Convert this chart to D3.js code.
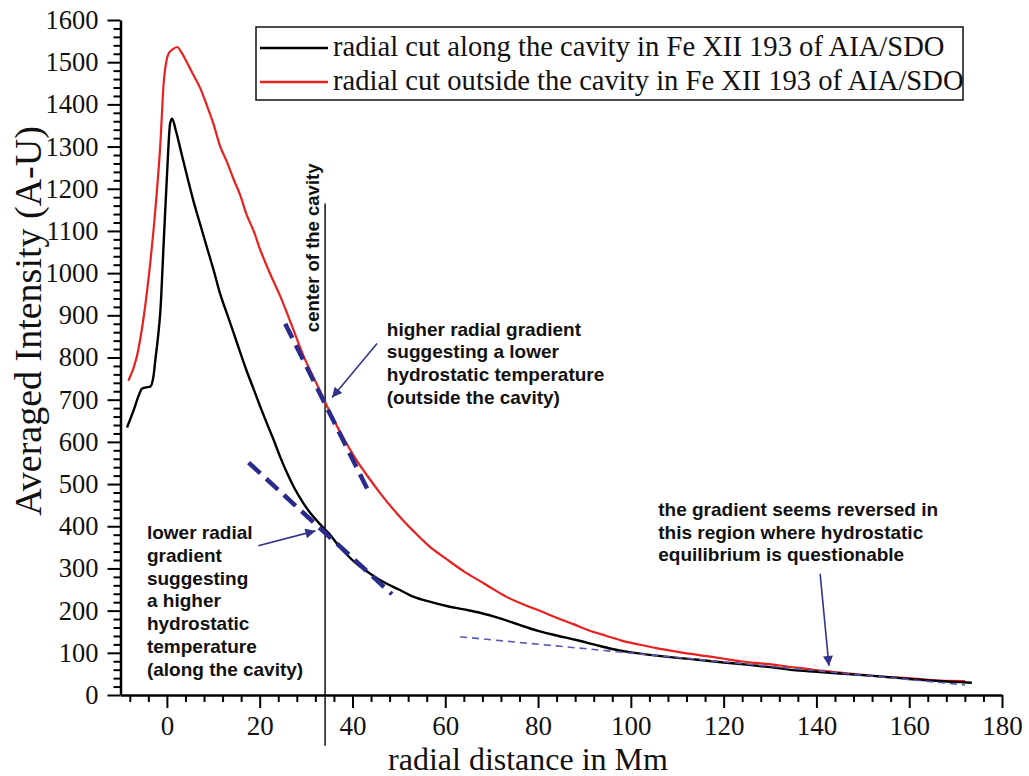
<!DOCTYPE html>
<html>
<head>
<meta charset="utf-8">
<script src="https://cdn.jsdelivr.net/npm/d3@7"></script>
<style>
body {
  margin: 0;
  background: #fff;
}
.serif {
  font-family: 'Liberation Serif', 'Times New Roman', serif;
}
.note {
  font-family: 'Liberation Sans', Arial, sans-serif;
  font-weight: bold;
  font-size: 19px;
  fill: #111;
}
</style>
</head>
<body>
<svg id="chart"></svg>
<script>
// radial cut along the cavity (black)
const alongX = [-8.6, -7.2, -6.0, -5.4, -4.5, -3.6, -2.9, -2.5, -1.9, -1.4, -0.7, 0, 0.7, 1.1, 2.0, 2.9, 4.3, 5.7, 7.2, 8.6,
  10, 11.5, 13, 14.4, 15.8, 17.2, 18.7, 20.1, 21.5, 23, 24.5, 25.9, 27.5, 29.4, 31, 33, 35, 36.6, 38.5, 40.9,
  43, 46, 50, 53.1, 57, 60.3, 64, 67.5, 72, 76, 80, 84, 88, 92, 96, 100, 105, 110, 115, 120,
  125, 130, 135, 140, 145, 150, 155, 160, 165, 170, 173.5];
const alongY = [634, 674, 712, 726, 729, 731, 755, 793, 850, 911, 1070, 1228, 1355, 1366, 1335, 1295, 1232, 1172, 1115, 1062,
  1010, 950, 902, 858, 812, 768, 725, 684, 645, 605, 562, 526, 490, 455, 430, 405, 382, 360, 336, 311,
  294, 272, 250, 233, 220, 211, 203, 195, 181, 166, 152, 141, 131, 120, 109, 101, 94, 88, 83, 77,
  72, 66, 59, 55, 51, 47, 43, 38, 34, 31, 29];

// radial cut outside the cavity (red)
const outsideX = [-8.3, -6.5, -5.0, -3.6, -2.5, -1.4, -0.7, 0, 0.6, 1.1, 2.2, 3.2, 4.3, 5.7, 7.2, 8.6, 10, 11.5, 12.9, 14.4,
  15.8, 17.2, 18.7, 20.1, 21.6, 23, 24.4, 26.6, 29.4, 32.3, 34.5, 37.4, 40.9, 43.5, 46, 50, 53.1, 56.5, 60.3, 64,
  67.5, 70, 73.3, 77, 80.5, 84, 87.6, 91, 94.8, 98, 102, 105.5, 109.2, 112.5, 116.4, 120, 123.6, 127, 130.7, 134,
  137.9, 141.5, 145.1, 148.7, 152.3, 156, 159.5, 163, 166.7, 172];
const outsideY = [745, 801, 896, 1023, 1149, 1308, 1450, 1508, 1524, 1529, 1536, 1522, 1500, 1470, 1438, 1398, 1355, 1300, 1265, 1222,
  1185, 1138, 1100, 1056, 1015, 980, 946, 885, 805, 737, 685, 622, 556, 515, 478, 425, 389, 353, 322, 293,
  270, 253, 232, 214, 199, 183, 168, 153, 140, 129, 119, 111, 104, 98, 92, 86, 80, 76, 72, 67,
  62, 57, 53, 49, 45, 42, 40, 37, 34, 33];

const xTicks = [0, 20, 40, 60, 80, 100, 120, 140, 160, 180];
const xMinor = d3.range(-8, 180, 4).filter(v => v % 20 !== 0);
const yTicks = [0, 100, 200, 300, 400, 500, 600, 700, 800, 900, 1000, 1100, 1200, 1300, 1400, 1500, 1600];
const yMinor = d3.range(0, 1600, 20).filter(v => v % 100 !== 0);

const seriesNames = [
  'radial cut along the cavity in Fe XII 193 of AIA/SDO',
  'radial cut outside the cavity in Fe XII 193 of AIA/SDO'
];

// gradient guides: [x1, y1, x2, y2] in data units
const guideOutside = [25.5, 880, 43.4, 484];
const guideAlong = [17.6, 551, 48.5, 239];
const guideFar = [63.2, 138, 172, 24];
const cavityX = 34.1;
const cavityTop = 1165;

// arrows: [fromX, fromY, toX, toY]
const arrows = [
  [45.3, 833, 35.6, 705],
  [19.7, 354, 32.0, 389],
  [140.8, 287, 142.7, 69]
];

// notes: anchor x, first baseline y (data units), lines
const notes = [
  { x: 47.4, y: 852, lines: ['higher radial gradient', 'suggesting a lower', 'hydrostatic temperature', '(outside the cavity)'] },
  { x: -4.3, y: 370, lines: ['lower radial', 'gradient', 'suggesting', 'a higher', 'hydrostatic', 'temperature', '(along the cavity)'] },
  { x: 105.9, y: 425, lines: ['the gradient seems reversed in', 'this region where hydrostatic', 'equilibrium is questionable'] }
];

const serifFont = "'Liberation Serif', 'Times New Roman', serif";
const width = 1029;
const height = 776;

const svg = d3.select('#chart').attr('width', width).attr('height', height);

const x = d3.scaleLinear().domain([-10, 180]).range([120.5, 1002]);
const y = d3.scaleLinear().domain([0, 1600]).range([695, 20]);

// minor ticks first
svg.append('g')
  .attr('transform', `translate(0,${y(0)})`)
  .call(d3.axisBottom(x).tickValues(xMinor).tickSize(7).tickFormat('').tickSizeOuter(0))
  .call(g => g.select('.domain').remove())
  .call(g => g.selectAll('line').attr('stroke-width', 2));

svg.append('g')
  .attr('transform', `translate(${x(-10)},0)`)
  .call(d3.axisLeft(y).tickValues(yMinor).tickSize(7).tickFormat('').tickSizeOuter(0))
  .call(g => g.select('.domain').remove())
  .call(g => g.selectAll('line').attr('stroke-width', 2));

const xAxis = svg.append('g')
  .attr('transform', `translate(0,${y(0)})`)
  .call(d3.axisBottom(x).tickValues(xTicks).tickFormat(d3.format('d'))
    .tickSize(13).tickPadding(8).tickSizeOuter(0))
  .attr('font-family', serifFont)
  .attr('font-size', 27);
xAxis.select('.domain').attr('stroke-width', 2.5);
xAxis.selectAll('line').attr('stroke-width', 2);
xAxis.selectAll('text').attr('fill', '#111');

const yAxis = svg.append('g')
  .attr('transform', `translate(${x(-10)},0)`)
  .call(d3.axisLeft(y).tickValues(yTicks).tickFormat(d3.format('d'))
    .tickSize(13).tickPadding(9).tickSizeOuter(0))
  .attr('font-family', serifFont)
  .attr('font-size', 26.5);
yAxis.select('.domain').attr('stroke-width', 2.5);
yAxis.selectAll('line').attr('stroke-width', 2);
yAxis.selectAll('text').attr('fill', '#111');

// axis titles
svg.append('text')
  .attr('class', 'serif')
  .attr('x', 528)
  .attr('y', 770)
  .attr('text-anchor', 'middle')
  .attr('font-size', 32)
  .attr('fill', '#111')
  .text('radial distance in Mm');

svg.append('text')
  .attr('class', 'serif')
  .attr('transform', 'translate(41,321) rotate(-90)')
  .attr('text-anchor', 'middle')
  .attr('font-size', 38)
  .attr('fill', '#111')
  .text('Averaged Intensity (A-U)');

// center of the cavity
svg.append('line')
  .attr('x1', x(cavityX)).attr('x2', x(cavityX))
  .attr('y1', y(cavityTop)).attr('y2', y(-120))
  .attr('stroke', '#111')
  .attr('stroke-width', 1.5);

svg.append('text')
  .attr('class', 'note')
  .attr('transform', `translate(${x(cavityX) - 6},${y(1060)}) rotate(-90)`)
  .attr('text-anchor', 'middle')
  .style('font-size', '18.5px')
  .text('center of the cavity');

// curves
const line = d3.line()
  .x(d => x(d[0]))
  .y(d => y(d[1]))
  .curve(d3.curveMonotoneX);

svg.append('path')
  .datum(d3.zip(outsideX, outsideY))
  .attr('fill', 'none')
  .attr('stroke', '#e8201e')
  .attr('stroke-width', 2.2)
  .attr('d', line);

svg.append('path')
  .datum(d3.zip(alongX, alongY))
  .attr('fill', 'none')
  .attr('stroke', '#000')
  .attr('stroke-width', 2.4)
  .attr('d', line);

// gradient guides
function guide(g, color, w, dash) {
  svg.append('line')
    .attr('x1', x(g[0])).attr('y1', y(g[1]))
    .attr('x2', x(g[2])).attr('y2', y(g[3]))
    .attr('stroke', color)
    .attr('stroke-width', w)
    .attr('stroke-dasharray', dash);
}
guide(guideOutside, '#2b2b8c', 4.5, '16,8');
guide(guideAlong, '#2b2b8c', 4.5, '16,8');
guide(guideFar, '#5a5ab4', 1.6, '7,5');

// arrows
svg.append('defs').append('marker')
  .attr('id', 'head')
  .attr('viewBox', '0 0 10 10')
  .attr('refX', 10).attr('refY', 5)
  .attr('markerWidth', 13).attr('markerHeight', 10)
  .attr('markerUnits', 'userSpaceOnUse')
  .attr('orient', 'auto')
  .append('path')
  .attr('d', 'M0,0L10,5L0,10Z')
  .attr('fill', '#33338a');

arrows.forEach(a => {
  svg.append('line')
    .attr('x1', x(a[0])).attr('y1', y(a[1]))
    .attr('x2', x(a[2])).attr('y2', y(a[3]))
    .attr('stroke', '#33338a')
    .attr('stroke-width', 1.6)
    .attr('marker-end', 'url(#head)');
});

// notes
notes.forEach(n => {
  const t = svg.append('text')
    .attr('class', 'note')
    .attr('x', x(n.x))
    .attr('y', y(n.y));
  n.lines.forEach((l, i) => {
    t.append('tspan')
      .attr('x', x(n.x))
      .attr('dy', i === 0 ? 0 : 22.8)
      .text(l);
  });
});

// legend
const legend = svg.append('g').attr('transform', 'translate(256,27)');
legend.append('rect')
  .attr('width', 707)
  .attr('height', 73)
  .attr('fill', '#fff')
  .attr('stroke', '#111')
  .attr('stroke-width', 1.5);

const legendColors = ['#000', '#e8201e'];
seriesNames.forEach((name, i) => {
  legend.append('line')
    .attr('x1', 4).attr('x2', 72)
    .attr('y1', 21 + i * 34).attr('y2', 21 + i * 34)
    .attr('stroke', legendColors[i])
    .attr('stroke-width', 2.4);
  legend.append('text')
    .attr('class', 'serif')
    .attr('x', 77)
    .attr('y', 29 + i * 34)
    .attr('font-size', 28.6)
    .attr('fill', '#111')
    .text(name);
});
</script>
</body>
</html>
